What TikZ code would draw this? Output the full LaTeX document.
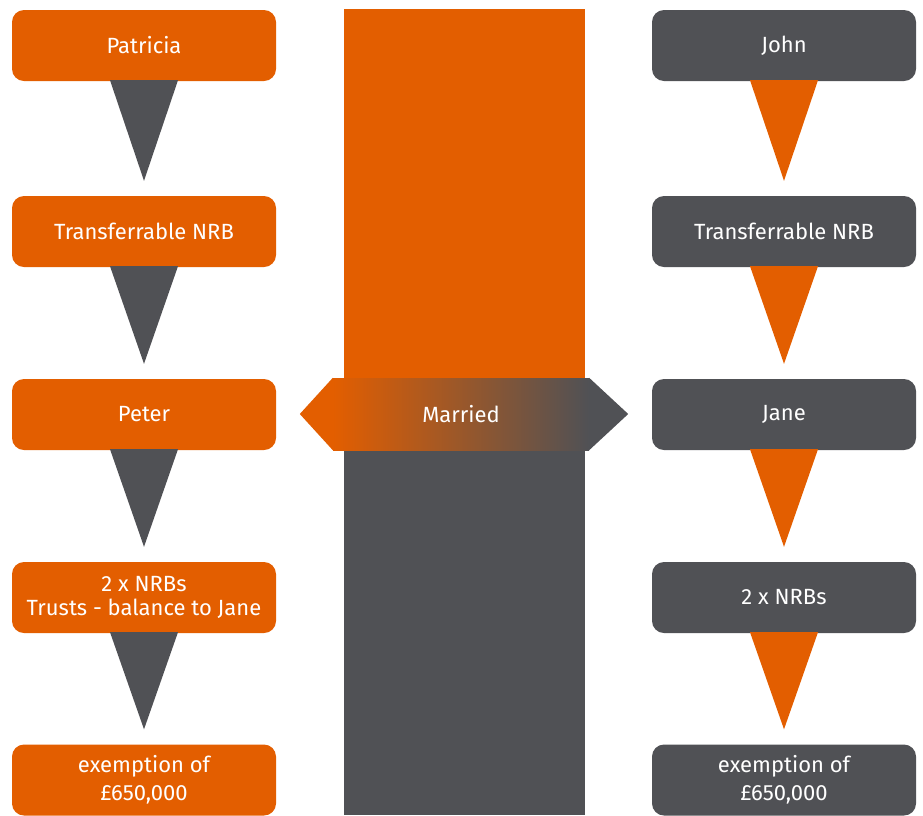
\documentclass[tikz,border=0pt]{standalone}
\usepackage{fontspec}
\setmainfont{Fira Sans}
\usetikzlibrary{calc}
\definecolor{estateorange}{RGB}{227,94,0}
\definecolor{estategray}{RGB}{80,81,85}

\tikzset{
	stage/.style={rounded corners=12pt, minimum width=264pt, minimum height=71pt,
		inner sep=0pt, align=center, text=white, font=\fontsize{22}{24}\selectfont},
	orangestage/.style={stage, fill=estateorange},
	graystage/.style={stage, fill=estategray},
}
% funnel from one stage down to the next
\newcommand{\Funnel}[3]{%
	\fill[#1] ($(#2.south)+(-34,-1)$) -- ($(#2.south)+(34,-1)$) -- ($(#3.north)+(0,-15)$) -- cycle;}

\begin{document}
\begin{tikzpicture}[x=1pt, y=-1pt]
	\useasboundingbox (0,0) rectangle (923,815);
	
	\node[orangestage] (P1) at (144,45.5) {Patricia};
	\node[orangestage] (P2) at (144,231.5) {Transferrable NRB};
	\node[orangestage] (P3) at (144,414.5) {Peter};
	\node[orangestage] (P4) at (144,597.5) {2 x NRBs\\Trusts - balance to Jane};
	\node[orangestage, font=\fontsize{22}{28}\selectfont] (P5) at (144,780) {exemption of\\\pounds650,000};
	
	\node[graystage] (J1) at (784,45.5) {John};
	\node[graystage] (J2) at (784,231.5) {Transferrable NRB};
	\node[graystage] (J3) at (784,414.5) {Jane};
	\node[graystage] (J4) at (784,597.5) {2 x NRBs};
	\node[graystage, font=\fontsize{22}{28}\selectfont] (J5) at (784,780) {exemption of\\\pounds650,000};
	
	\Funnel{estategray}{P1}{P2}
	\Funnel{estategray}{P2}{P3}
	\Funnel{estategray}{P3}{P4}
	\Funnel{estategray}{P4}{P5}
	
	\Funnel{estateorange}{J1}{J2}
	\Funnel{estateorange}{J2}{J3}
	\Funnel{estateorange}{J3}{J4}
	\Funnel{estateorange}{J4}{J5}
	
	% the middle bar
	\fill[estateorange] (344,9) rectangle (585,414);
	\fill[estategray] (344,414) rectangle (585,815);
	
	\node[minimum width=256pt, minimum height=72pt, inner sep=0pt,
		left color=estateorange, right color=estategray,
		text=white, font=\fontsize{22}{24}\selectfont] (M) at (461,414) {Married};
	\fill[estateorange] (M.north west) -- ($(M.west)+(-33,0)$) -- (M.south west) -- cycle;
	\fill[estategray] (M.north east) -- ($(M.east)+(39,0)$) -- (M.south east) -- cycle;
	
\end{tikzpicture}
\end{document}
